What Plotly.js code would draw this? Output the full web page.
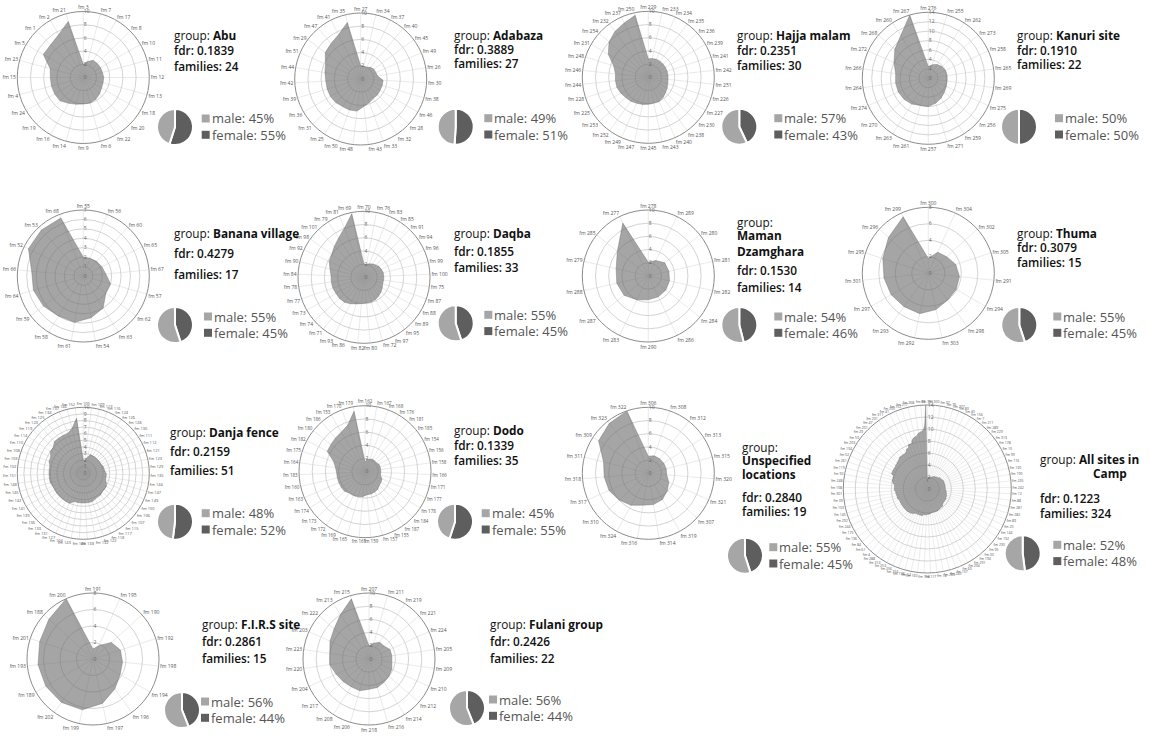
<!DOCTYPE html>
<html><head><meta charset="utf-8">
<script src="https://cdn.plot.ly/plotly-3.0.1.min.js"></script>
<style>html,body{margin:0;padding:0;background:#fff;}#chart{width:1149px;height:739px;}</style>
</head><body><div id="chart"></div>
<script>
// ---------- DATA ----------
const abuIds = [3,7,17,8,10,11,12,13,18,20,22,6,9,14,16,19,24,4,15,23,5,1,2,21];
const abuValues = [2,2.5,3,3,3,3,3.1,3.1,3.2,3.5,3.8,4,4,4.2,4.5,5,5,5,5,5.2,7,7,7.5,8.8];
const adabazaIds = [27,34,37,40,45,49,26,30,38,46,28,32,33,43,48,50,25,31,36,39,42,44,51,29,47,41,35];
const adabazaValues = [2,2,2,2.3,2.5,2.5,2.6,3.4,3.4,3.4,3.5,3.5,3.8,4.2,4.9,5,5,5.2,5.3,5.3,5.3,5.5,5.8,6.7,7,7.5,8.8];
const hajjaIds = [229,233,234,235,236,239,241,242,251,226,227,230,238,240,243,245,247,249,252,253,225,228,244,246,248,231,254,232,237,250];
const hajjaValues = [2.8,2.9,3,3,3,3,3,3,3,3.1,3.3,3.5,3.8,4,4,4.1,4.2,4.3,4.5,4.6,4.8,5,5,5,5.5,7,8,8.6,9,9.6];
const kanuriIds = [276,255,262,273,258,265,269,275,256,259,271,257,261,263,270,274,264,266,272,268,260,267];
const kanuriValues = [2.5,3,3.5,3.8,4,4,4,4.2,4.5,5,5.5,6,6,6.5,6.8,7,7,7,8,9.4,10.8,14];
const bananaIds = [55,56,60,65,67,57,62,63,54,61,58,59,64,66,52,53,68];
const bananaValues = [2,2,2.1,2.2,2.4,3,3,4,4.5,5,5,5.3,5.5,5.5,6.5,6.6,6.6];
const daqbaIds = [70,76,83,85,91,94,96,99,100,75,87,88,89,95,97,72,80,82,86,93,71,74,73,77,78,84,90,92,98,101,79,81,69];
const daqbaValues = [2,2,2.2,2.4,2.6,2.8,2.9,3,3,3,3,3.2,3.4,3.6,3.8,3.9,3.9,4,4.2,4.5,4.8,4.9,4.9,5,5,5,5.3,5.8,6,6.5,7.1,8,9.8];
const danjaIds = [105,109,113,116,124,126,128,130,111,112,121,123,129,135,144,147,149,150,106,107,115,117,118,122,132,138,140,143,104,127,131,133,136,139,141,142,145,148,151,102,103,108,110,114,119,120,125,134,137,146,152];
const danjaValues = [2,2,2.5,3,3,3,3,3,3,3,3.2,3.2,3.3,3.5,3.5,3.5,3.8,4,4,4,4.2,4.2,4.3,4.5,4.5,4.5,4.5,4.5,4.5,5,5,5,5,5,5,5,5.2,5.2,5.2,5.2,5.2,5.5,5.5,6,6,6.5,6.5,6.5,6.5,7,8.4];
const dodoIds = [162,167,168,176,181,185,154,156,158,166,171,177,178,184,187,155,157,159,161,165,169,172,173,174,163,160,183,164,175,182,180,186,153,170,179];
const dodoValues = [1.5,1.8,2,2.2,2.2,2.2,2.4,2.4,2.4,2.4,2.4,2.8,2.9,3,3.3,3.4,3.5,3.5,3.8,3.9,4,4,4.3,4.3,4.3,4.3,4.3,4.5,5,6.5,6.6,6.8,7,7.5,9.3];
const firsIds = [191,195,190,192,198,194,196,197,199,202,189,193,201,188,200];
const firsValues = [1.2,1.8,3,3.5,3.6,3.8,4.5,5.5,6.3,6.5,6.6,6.7,6.8,7.2,8];
const fulaniIds = [207,211,219,221,224,205,209,210,212,214,216,218,206,208,217,204,220,223,203,222,213,215];
const fulaniValues = [2,2.5,3,3,3.5,3.5,3.5,3.8,4,4.2,4.5,4.6,5,5,5.2,5.5,6,6,6.5,7,8,9.5];
const mamanIds = [278,289,280,281,282,284,286,290,283,287,288,279,285,277];
const mamanValues = [2.1,2.6,3.2,3.2,3.3,3.4,3.5,3.6,4,4.7,4.9,5,6,8.9];
const thumaIds = [300,304,302,305,291,294,298,303,292,293,297,301,295,296,299];
const thumaValues = [1.8,2.8,3,3.5,3.8,3.9,4,4.5,5,5,5.2,5.4,5.8,6.5,7.5];
const unspecIds = [306,308,312,313,315,320,321,307,319,314,316,324,310,317,318,311,309,323,322];
const unspecValues = [2.6,2.8,2.8,2.8,2.8,2.8,3.4,3.9,4.5,4.8,4.9,5.5,6,6.5,6.7,7,9,9.6,10];

const groupNames = ['Abu','Adabaza','Hajja malam','Kanuri site','Banana village','Daqba','Maman Dzamghara','Thuma','Danja fence','Dodo','Unspecified locations','All sites in Camp','F.I.R.S site','Fulani group'];
const fdrValues = [0.1839,0.3889,0.2351,0.1910,0.4279,0.1855,0.1530,0.3079,0.2159,0.1339,0.2840,0.1223,0.2861,0.2426];
const familyCounts = [24,27,30,22,17,33,14,15,51,35,19,324,15,22];
const malePct = [45,49,57,50,55,55,54,55,48,45,55,52,56,56];
const femalePct = [55,51,43,50,45,45,46,45,52,55,45,48,44,44];

// All sites = every family of every group, sorted ascending
const groupIdLists = [abuIds,adabazaIds,bananaIds,daqbaIds,danjaIds,dodoIds,firsIds,fulaniIds,hajjaIds,kanuriIds,mamanIds,thumaIds,unspecIds];
const groupValLists = [abuValues,adabazaValues,bananaValues,daqbaValues,danjaValues,dodoValues,firsValues,fulaniValues,hajjaValues,kanuriValues,mamanValues,thumaValues,unspecValues];
let pairs = [];
groupIdLists.forEach((ids,g)=>ids.forEach((id,i)=>pairs.push([id,groupValLists[g][i]])));
pairs.sort((a,b)=>a[1]-b[1]);
const allIds = pairs.map(p=>p[0]);
const allValues = pairs.map(p=>p[1]);

// ---------- LAYOUT SPECS (positions in px) ----------
const series = [
  [abuIds,abuValues],[adabazaIds,adabazaValues],[hajjaIds,hajjaValues],[kanuriIds,kanuriValues],
  [bananaIds,bananaValues],[daqbaIds,daqbaValues],[mamanIds,mamanValues],[thumaIds,thumaValues],
  [danjaIds,danjaValues],[dodoIds,dodoValues],[unspecIds,unspecValues],[allIds,allValues],
  [firsIds,firsValues],[fulaniIds,fulaniValues]
];
const specs = [
  {cx:83.3,cy:77.5,R:66,rmax:10,dt:2,tx:172,mode:'inline',ly:[35,50,65.7],pie:[175,127],lx:201.7},
  {cx:360.7,cy:79,R:66,rmax:10,dt:2,tx:451.7,mode:'inline',ly:[35,49.3,63.3],pie:[455.7,126.7],lx:484.3},
  {cx:648.3,cy:77.3,R:66,rmax:10,dt:2,tx:735,mode:'inline',ly:[35,50,65],pie:[739.3,126.7],lx:774.3},
  {cx:928.3,cy:78.3,R:66,rmax:14,dt:2,tx:1015,mode:'inline',ly:[35,50,64.3],pie:[1019,126.7],lx:1055},
  {cx:83.3,cy:276,R:66,rmax:7,dt:1,tx:171.7,mode:'inline',ly:[233.3,253.3,274],pie:[175,325],lx:204},
  {cx:364,cy:277.3,R:66,rmax:10,dt:2,tx:452.3,mode:'inline',ly:[233.3,251,267.3],pie:[455.7,323.3],lx:484.3},
  {cx:648.3,cy:276,R:66,rmax:10,dt:2,tx:735,mode:'stack',ly:[222.3,235,250.7,270,287.3],pie:[739.3,325],lx:774.3},
  {cx:928.3,cy:273.3,R:66,rmax:8,dt:2,tx:1015,mode:'inline',ly:[232.7,247.3,262.3],pie:[1019.3,325],lx:1053.3},
  {cx:83.3,cy:473.3,R:66,rmax:10,dt:1,tx:168.3,mode:'inline',ly:[431.7,451,470],pie:[175,521.7],lx:201.7,tf:4},
  {cx:365,cy:471.7,R:66,rmax:10,dt:2,tx:451.7,mode:'inline',ly:[430,445,460],pie:[455,521.7],lx:481.7,tf:4.5},
  {cx:648.3,cy:473.3,R:66,rmax:10,dt:2,tx:740,mode:'stack',ly:[446.7,460,474,496.7,510.7],pie:[745,555.7],lx:769.3},
  {cx:927.3,cy:489,R:84,rmax:14,dt:2,tx:1038.3,mode:'split',split:3,cx2:1110,ly:[459.3,473.3,498.3,512.7],pie:[1022.7,553.3],lx:1053.3,tf:3.5,adt:4},
  {cx:93,cy:659,R:66,rmax:8,dt:2,tx:200,mode:'inline',ly:[624,641,658],pie:[182,710],lx:201},
  {cx:369,cy:659,R:66,rmax:10,dt:2,tx:488,mode:'inline',ly:[624,641,658],pie:[467,708],lx:489}
];

const W = 1149, H = 739;
const px = x => x / W, py = y => 1 - y / H;
const MALE = '#a6a6a6', FEMALE = '#5e5e5e';
const FS = 11.8;
const traces = [], annotations = [], shapes = [];
const layout = {
  width: W, height: H, margin: {l:0,r:0,t:0,b:0}, paper_bgcolor:'#fff', plot_bgcolor:'#fff',
  showlegend:false, hovermode:false, font:{family:'Open Sans, sans-serif', color:'#111'}
};

function ann(text, x, y, opts) {
  annotations.push(Object.assign({xref:'paper', yref:'paper', x:px(x), y:py(y), text:text, showarrow:false,
    xanchor:'left', yanchor:'middle', font:{size:FS, color:'#111', family:'Open Sans, sans-serif'}}, opts||{}));
}
const semi = {font:{size:FS, color:'#111', weight:600, family:'Open Sans, sans-serif'}};

specs.forEach((s, i) => {
  const key = i === 0 ? 'polar' : 'polar' + (i + 1);
  const [ids, vals] = series[i];
  const labels = ids.map(d => 'fm ' + d);
  traces.push({type:'scatterpolar', subplot:key, r: vals.concat([vals[0]]), theta: labels.concat([labels[0]]),
    mode:'lines', fill:'toself', fillcolor:'rgba(105,105,105,0.6)', line:{color:'rgba(105,105,105,0.65)', width:0.6},
    hoverinfo:'skip'});
  const ang = {type:'category', categoryorder:'array', categoryarray:labels, rotation:90, direction:'clockwise',
      tickfont:{size: s.tf || 5, color:'#555'}, gridcolor:'#e4e4e4', gridwidth:0.8,
      showline:true, linecolor:'#8c8c8c', linewidth:1, ticks:''};
  if (s.adt) { ang.tickmode = 'linear'; ang.tick0 = 0; ang.dtick = s.adt; ang.gridcolor = '#e9e9e9'; }
  layout[key] = {
    domain:{x:[px(s.cx - s.R), px(s.cx + s.R)], y:[py(s.cy + s.R), py(s.cy - s.R)]},
    bgcolor:'#fff',
    angularaxis: ang,
    radialaxis:{range:[0, s.rmax], dtick:s.dt, angle:90, tickangle:90, tickfont:{size:5, color:'#666'},
      gridcolor:'#c8c8c8', gridwidth:0.8, showline:false, ticks:'', layer:'above traces'}
  };
  // text
  const name = groupNames[i];
  const fdrTxt = 'fdr: ' + fdrValues[i].toFixed(4);
  const famTxt = 'families: ' + familyCounts[i];
  const gfont = {font:{size: FS, color:'#111', family:'Open Sans, sans-serif'}};
  if (s.mode === 'inline') {
    ann('group: <b>' + name + '</b>', s.tx, s.ly[0], gfont);
    ann(fdrTxt, s.tx, s.ly[1], semi);
    ann(famTxt, s.tx, s.ly[2], semi);
  } else if (s.mode === 'stack') {
    const words = name.split(' ');
    ann('group:', s.tx, s.ly[0], gfont);
    words.forEach((w, k) => ann('<b>' + w + '</b>', s.tx, s.ly[1 + k], gfont));
    ann(fdrTxt, s.tx, s.ly[3], semi);
    ann(famTxt, s.tx, s.ly[4], semi);
  } else {
    const words = name.split(' ');
    ann('group: <b>' + words.slice(0, s.split).join(' ') + '</b>', s.tx, s.ly[0], gfont);
    ann('<b>' + words.slice(s.split).join(' ') + '</b>', s.cx2, s.ly[1], Object.assign({xanchor:'center'}, gfont));
    ann(fdrTxt, s.tx, s.ly[2], semi);
    ann(famTxt, s.tx, s.ly[3], semi);
  }
  // pie: female (dark) runs clockwise from 12 o'clock, male (light) fills the rest
  const pr = 18, [pcx, pcy] = s.pie;
  traces.push({type:'pie', values:[femalePct[i], malePct[i]], labels:['female','male'], sort:false,
    direction:'clockwise', rotation:0, textinfo:'none', hoverinfo:'skip', showlegend:false,
    marker:{colors:[FEMALE, MALE], line:{color:'#fff', width:2}},
    domain:{x:[px(pcx - pr), px(pcx + pr)], y:[py(pcy + pr), py(pcy - pr)]}});
  // legend squares + text
  const yM = pcy - 8.5, yF = pcy + 7.8, sq = 8;
  [[yM, MALE, 'male: ' + malePct[i] + '%'], [yF, FEMALE, 'female: ' + femalePct[i] + '%']].forEach(([yy, c, t]) => {
    shapes.push({type:'rect', xref:'paper', yref:'paper', x0:px(s.lx), x1:px(s.lx + sq), y0:py(yy + sq/2), y1:py(yy - sq/2),
      fillcolor:c, line:{width:0}});
    ann(t, s.lx + sq, yy, {font:{size:13, color:'#555', family:'Open Sans, sans-serif'}});
  });
});
layout.annotations = annotations;
layout.shapes = shapes;
Plotly.newPlot('chart', traces, layout, {staticPlot:true, displayModeBar:false});
</script></body></html>
